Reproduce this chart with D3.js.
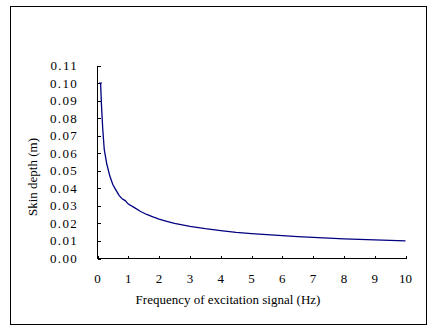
<!DOCTYPE html>
<html lang="en">
<head>
<meta charset="UTF-8">
<title>Skin depth</title>
<script src="https://d3js.org/d3.v7.min.js"></script>
<style>
    body { margin: 0; background: #fff; }
    text { font-family: "Liberation Serif", "Times New Roman", serif; fill: #000; }
</style>
</head>
<body>
<svg width="434" height="331" id="grafico"></svg>
<script>
// frequency (Hz) and skin depth (m)
var freq = [0.1, 0.13, 0.17, 0.22, 0.3, 0.4, 0.5, 0.6, 0.7, 0.8, 0.9, 1.0, 1.2, 1.4, 1.6, 1.8,
            2.0, 2.25, 2.5, 2.75, 3.0, 3.5, 4.0, 4.5, 5.0, 5.5, 6.0, 6.5, 7.0, 7.5, 8.0,
            8.5, 9.0, 9.5, 10.0];
var depth = [0.100, 0.087, 0.074, 0.062, 0.054, 0.047, 0.042, 0.039, 0.036, 0.034, 0.033,
             0.031, 0.029, 0.0268, 0.0251, 0.0237, 0.0225, 0.0212, 0.0200, 0.0191, 0.0183, 0.0170,
             0.0159, 0.0149, 0.0142, 0.0136, 0.0130, 0.0125, 0.0120, 0.0116, 0.0112, 0.0109,
             0.0106, 0.0103, 0.0100];
var xTicks = [0, 1, 2, 3, 4, 5, 6, 7, 8, 9, 10];
var yTicks = [0, 0.01, 0.02, 0.03, 0.04, 0.05, 0.06, 0.07, 0.08, 0.09, 0.10, 0.11];

var svg = d3.select("svg");

// outer frame
svg.append("rect")
    .attr("x", 10.5).attr("y", 6.5)
    .attr("width", 416).attr("height", 318)
    .attr("fill", "none").attr("stroke", "#000").attr("stroke-width", 1);

var x = d3.scaleLinear().domain([0, 10]).range([97.5, 405.5]),
    y = d3.scaleLinear().domain([0, 0.11]).range([258.5, 65.5]);

// y axis (ticks inside)
var yAxis = svg.append("g")
    .attr("transform", "translate(97.5,0)")
    .call(d3.axisRight(y).tickValues(yTicks).tickSize(3).tickFormat(""));
yAxis.select(".domain").attr("d", "M0," + y(0.11) + "V" + y(0));

// x axis (ticks inside)
var xAxis = svg.append("g")
    .attr("transform", "translate(0,258.5)")
    .call(d3.axisTop(x).tickValues(xTicks).tickSize(3).tickFormat(""));
xAxis.select(".domain").attr("d", "M" + x(0) + ",0H" + x(10));
svg.selectAll(".tick line, .domain")
    .attr("stroke", "#000").attr("stroke-width", 1)
    .attr("shape-rendering", "crispEdges");

// tick labels
svg.selectAll(".ylab").data(yTicks).enter().append("text")
    .attr("class", "ylab")
    .attr("x", 78).attr("y", function (d) { return y(d) + 4.5; })
    .attr("text-anchor", "end")
    .attr("font-size", 13)
    .attr("letter-spacing", 1.3)
    .text(function (d) { return d3.format(".2f")(d); });

svg.selectAll(".xlab").data(xTicks).enter().append("text")
    .attr("class", "xlab")
    .attr("x", function (d) { return x(d); }).attr("y", 283)
    .attr("text-anchor", "middle")
    .attr("font-size", 13)
    .text(function (d) { return d; });

// axis titles
svg.append("text")
    .attr("x", 228).attr("y", 304)
    .attr("text-anchor", "middle")
    .attr("font-size", 13)
    .text("Frequency of excitation signal (Hz)");

svg.append("text")
    .attr("transform", "translate(37,177) rotate(-90)")
    .attr("text-anchor", "middle")
    .attr("font-size", 13)
    .text("Skin depth (m)");

// curve
var data = freq.map(function (f, i) { return { f: f, d: depth[i] }; });
svg.append("path")
    .datum(data)
    .attr("fill", "none")
    .attr("stroke", "#000080")
    .attr("stroke-width", 1.3)
    .attr("d", d3.line()
        .x(function (d) { return x(d.f); })
        .y(function (d) { return y(d.d); }));

// small cross at the first point
svg.append("path")
    .attr("stroke", "#000080")
    .attr("stroke-width", 1)
    .attr("d", "M" + (x(freq[0]) - 1.5) + "," + y(depth[0]) + "h3");
</script>
</body>
</html>
